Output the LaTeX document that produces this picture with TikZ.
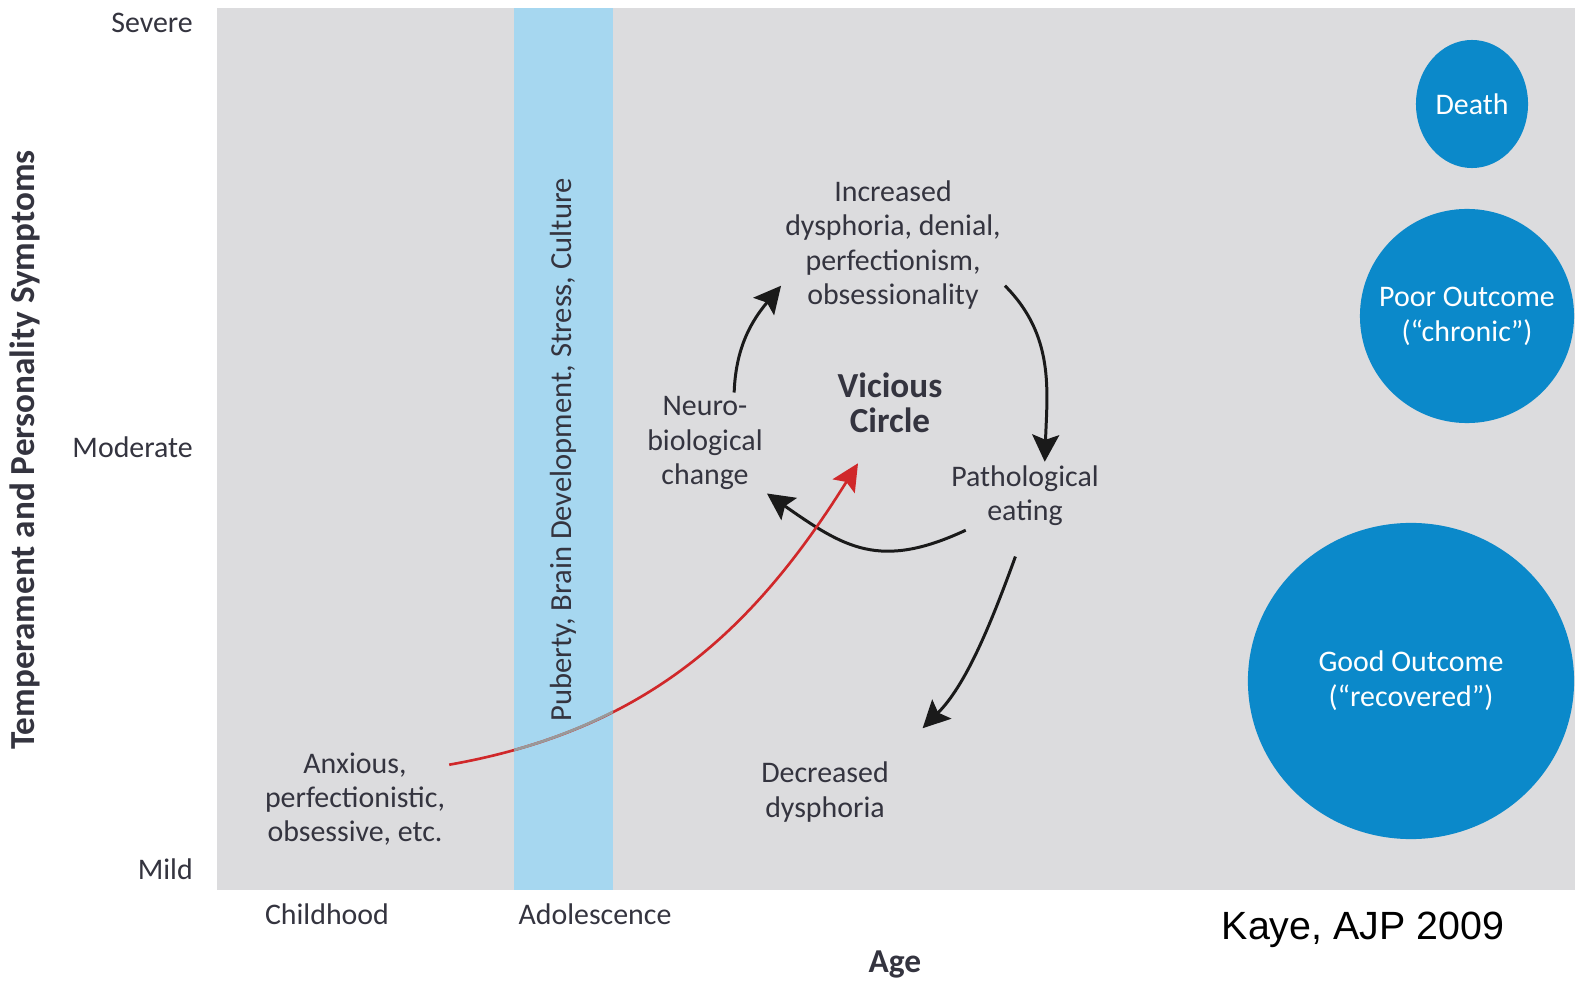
\documentclass[tikz,border=0pt]{standalone}
\usepackage{fontspec}
\setmainfont{Carlito}
\newfontfamily\citefont{Liberation Sans}
\usetikzlibrary{arrows.meta,shapes.geometric}
\definecolor{panelgray}{HTML}{DCDCDE}
\definecolor{bandblue}{HTML}{A6D7F0}
\definecolor{outblue}{HTML}{0B89CA}
\definecolor{inkgray}{HTML}{34343F}
\definecolor{redline}{HTML}{D0282A}
\definecolor{arrowblack}{HTML}{1A1A1A}

\begin{document}
\begin{tikzpicture}[x=0.01cm, y=0.01cm,
		lbl/.style = {align=center, text=inkgray, inner sep=1pt, font=\fontsize{8.5}{9.7}\selectfont},
		axis/.style = {text=inkgray, inner sep=1pt, font=\fontsize{9.5}{10}\selectfont\bfseries},
		outc/.style = {ellipse, fill=outblue, inner sep=0pt},
		outtxt/.style = {text=white, align=center, inner sep=0pt, font=\fontsize{8.5}{9.9}\selectfont},
		cyc/.style = {draw=arrowblack, line width=0.85pt, -{Stealth[length=0.27cm, width=0.27cm, inset=0.05cm]}}]
		\useasboundingbox (0,-985) rectangle (1575,0);
		\fill[panelgray] (217,-8) rectangle (1575,-890);
		\fill[bandblue] (514,-8) rectangle (613,-890);

		% axes
		\node[lbl, anchor=east] (sev) at (197,-23) {Severe};
		\node[lbl, anchor=east] (mod) at (197,-447) {Moderate};
		\node[lbl, anchor=east] (mild) at (197,-869) {Mild};
		\node[axis, rotate=90, font=\fontsize{10}{10}\selectfont\bfseries] (yax) at (25,-450) {Temperament and Personality Symptoms};
		\node[lbl] (child) at (327,-914) {Childhood};
		\node[lbl] (adol) at (595,-914) {Adolescence};
		\node[axis] (age) at (895,-964) {Age};
		\node[lbl, rotate=90, font=\fontsize{8.7}{9.7}\selectfont] (band) at (563,-450) {Puberty, Brain Development, Stress, Culture};
		\node[inner sep=0pt, font=\fontsize{11.2}{12}\citefont] (cite) at (1363,-930) {Kaye, AJP 2009};

		% vicious circle
		\node[lbl] (inc) at (893,-245) {Increased\\dysphoria, denial,\\perfectionism,\\obsessionality};
		\node[lbl, font=\fontsize{10}{10}\selectfont\bfseries] (vc) at (890,-403) {Vicious\\Circle};
		\node[lbl] (neuro) at (705,-443) {Neuro-\\biological\\change};
		\node[lbl] (path) at (1025,-496) {Pathological\\eating};
		\node[lbl] (dec) at (825,-792) {Decreased\\dysphoria};
		\node[lbl] (anx) at (355,-799) {Anxious,\\perfectionistic,\\obsessive, etc.};

		% outcomes
		\node[outc, minimum width=1.12cm, minimum height=1.28cm] (death) at (1472,-104) {};
		\node[outtxt] (deathtxt) at (death) {Death};
		\node[outc, minimum width=2.14cm, minimum height=2.14cm] (poor) at (1467,-316) {};
		\node[outtxt] (poortxt) at (poor) {Poor Outcome\\(“chronic”)};
		\node[outc, minimum width=3.26cm, minimum height=3.16cm] (good) at (1411,-681) {};
		\node[outtxt] (goodtxt) at (good) {Good Outcome\\(“recovered”)};

		\draw[cyc] (neuro.60) to[out=88, in=230] (inc.200);
		\draw[cyc] (inc.-20) to[out=-45, in=88] (path.60);
		\draw[cyc] (path.210) to[out=205, in=-35, looseness=1.2] (neuro.south east);
		\draw[cyc, shorten <=0.28cm, shorten >=0.42cm] (path.south) to[out=250, in=45] (dec.north east);

		\draw[redline, line width=0.75pt, -{Stealth[length=0.27cm, width=0.26cm, inset=0.05cm]}] (anx.20) to[out=10, in=238] ([shift={(-32,-26)}]vc.south);
		\begin{scope}
			\clip (514,-8) rectangle (613,-890);
			\draw[gray!80, line width=0.75pt] (anx.20) to[out=10, in=238] ([shift={(-32,-26)}]vc.south);
		\end{scope}
	\end{tikzpicture}
\end{document}
